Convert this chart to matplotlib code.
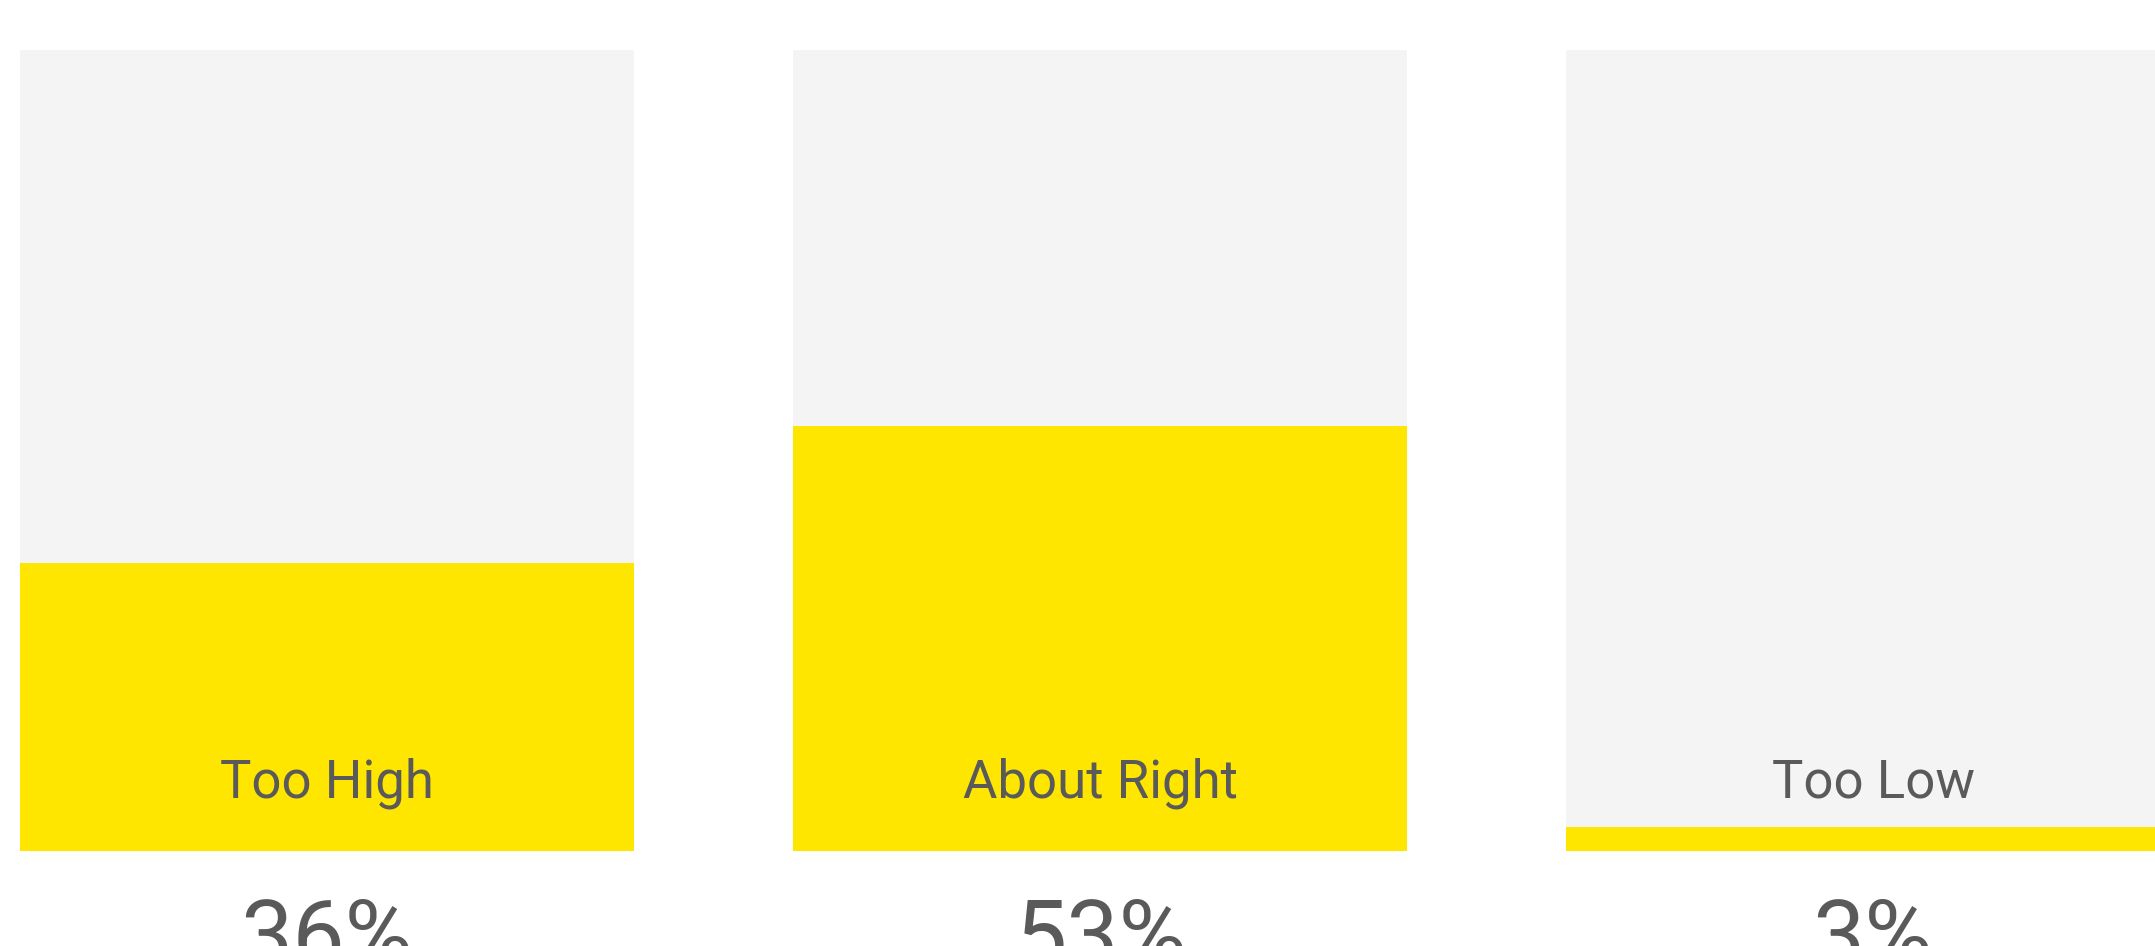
import matplotlib.pyplot as plt

categories = ['Too High', 'About Right', 'Too Low']
values = [36, 53, 3]
pct_labels = ['36%', '53%', '3%']

W, H = 2155, 946
fig = plt.figure(figsize=(W / 100, H / 100), dpi=100)
fig.patch.set_facecolor('white')

panel_w = 614
panel_h = 801
gap = 773
top = 50

for i, (cat, val, lab) in enumerate(zip(categories, values, pct_labels)):
    left = 20 + i * gap
    ax = fig.add_axes([left / W, (H - top - panel_h) / H, panel_w / W, panel_h / H])
    ax.bar([0], [100], width=1, color='#f4f4f4', align='center')
    ax.bar([0], [val], width=1, color='#ffe600', align='center')
    ax.set_xlim(-0.5, 0.5)
    ax.set_ylim(0, 100)
    ax.axis('off')
    # category name inside the panel, percentage below (cut by the figure edge as in the original)
    ax.text(0.5, 54 / panel_h, cat, transform=ax.transAxes, ha='center', va='baseline',
            fontsize=38, color='#5a5a5a', family='Roboto', clip_on=False)
    ax.text(0.5, -115 / panel_h, lab, transform=ax.transAxes, ha='center', va='baseline',
            fontsize=67, color='#5a5a5a', family='Roboto', clip_on=False)

fig.savefig('out.png', dpi=100)
